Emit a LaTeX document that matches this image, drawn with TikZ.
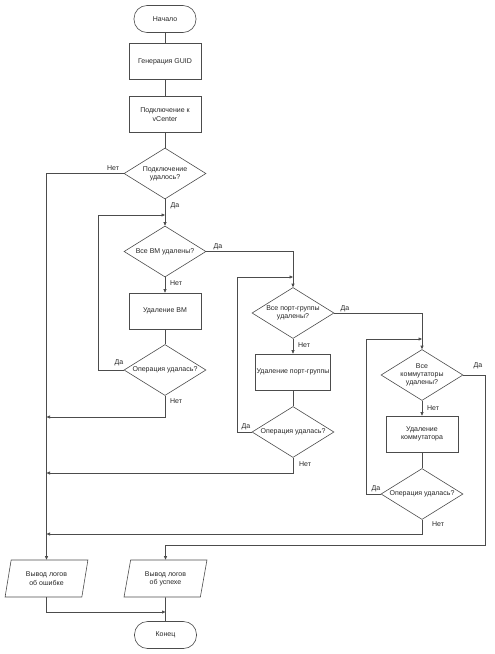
\documentclass[tikz,border=0pt]{standalone}
\usepackage{fontspec}
\setmainfont{Liberation Sans}
\usetikzlibrary{shapes.geometric,arrows.meta}
\begin{document}
\begin{tikzpicture}[x=1pt,y=-1pt,
  every node/.style={font=\fontsize{7}{8.3}\selectfont, text=black!85},
  conn/.style={draw=black!70, line width=0.6pt},
  arr/.style={conn, -{Triangle[length=3.5pt,width=3pt]}},
  term/.style={draw=black!70, line width=0.6pt, rounded corners=13pt, minimum width=62pt, minimum height=27pt, inner sep=0pt},
  proc/.style={draw=black!70, line width=0.6pt, minimum width=72pt, minimum height=36pt, inner sep=1pt, align=center},
  dec/.style={draw=black!70, line width=0.6pt, diamond, aspect=1.6, minimum width=82pt, minimum height=51pt, inner sep=0pt, align=center},
  io/.style={draw=black!70, line width=0.6pt, trapezium, trapezium left angle=75, trapezium right angle=105, trapezium stretches=true, minimum width=83pt, minimum height=37pt, inner sep=0pt, align=center},
  lbl/.style={inner sep=0pt},
]
\useasboundingbox (0,0) rectangle (495,654);
% nodes
\node[term] (start) at (165,19) {Начало};
\node[proc] (guid) at (165,61.5) {Генерация GUID};
\node[proc] (vc) at (165,114.5) {Подключение к\\vCenter};
\node[dec] (d1) at (165,173.5) {Подключение\\удалось?};
\node[dec] (d2) at (165,251.5) {Все ВМ удалены?};
\node[proc] (vm) at (165,311) {Удаление ВМ};
\node[dec] (op1) at (165,370) {Операция удалась?};
\node[dec] (d3) at (293,313) {Все порт-группы\\удалены?};
\node[proc] (pg) at (293,372) {Удаление порт-группы};
\node[dec] (op2) at (293,432) {Операция удалась?};
\node[dec] (d4) at (422,375) {Все\\коммутаторы\\удалены?};
\node[proc] (sw) at (422,434) {Удаление\\коммутатора};
\node[dec] (op3) at (422,494) {Операция удалась?};
\node[io] (errlog) at (46.5,578.5) {Вывод логов\\об ошибке};
\node[io] (oklog) at (165.5,578.5) {Вывод логов\\об успехе};
\node[term] (end) at (165.5,635) {Конец};
% junction coordinates
\coordinate (lp1) at (98,215);
\coordinate (j1) at (165,215);
\coordinate (e1) at (46.5,417);
\coordinate (lp2) at (237,277);
\coordinate (j2) at (293,277);
\coordinate (e2) at (46.5,473);
\coordinate (lp3) at (366,339);
\coordinate (j3) at (422,339);
\coordinate (e3) at (46.5,534);
\coordinate (r4) at (485,545);
\coordinate (j5) at (165.5,612);
% connectors
\draw[conn] (start) -- (guid);
\draw[conn] (guid) -- (vc);
\draw[conn] (vc) -- (d1);
\draw[arr] (d1.south) -- (d2.north);
\draw[arr] (d1.west) -| (errlog.north);
\draw[arr] (op1.west) -| (lp1) -- (j1);
\draw[arr] (d2.south) -- (vm.north);
\draw[conn] (vm) -- (op1);
\draw[arr] (op1.south) |- (e1);
\draw[arr] (d2.east) -| (d3.north);
\draw[arr] (op2.west) -| (lp2) -- (j2);
\draw[arr] (d3.south) -- (pg.north);
\draw[conn] (pg) -- (op2);
\draw[arr] (op2.south) |- (e2);
\draw[arr] (d3.east) -| (d4.north);
\draw[arr] (op3.west) -| (lp3) -- (j3);
\draw[arr] (d4.south) -- (sw.north);
\draw[conn] (sw) -- (op3);
\draw[arr] (op3.south) |- (e3);
\draw[arr] (d4.east) -| (r4) -| (oklog.north);
\draw[arr] (errlog.south) |- (j5);
\draw[conn] (oklog.south) -- (end);
% labels
\node[lbl] (l1) at (113,168) {Нет};
\node[lbl] (l2) at (175,206) {Да};
\node[lbl] (l3) at (218,247) {Да};
\node[lbl] (l4) at (176,283) {Нет};
\node[lbl] (l5) at (119,363) {Да};
\node[lbl] (l6) at (176,401) {Нет};
\node[lbl] (l7) at (345,309) {Да};
\node[lbl] (l8) at (304,345) {Нет};
\node[lbl] (l9) at (246,427) {Да};
\node[lbl] (l10) at (305,464) {Нет};
\node[lbl] (l11) at (478,366) {Да};
\node[lbl] (l12) at (433,408) {Нет};
\node[lbl] (l13) at (376,489) {Да};
\node[lbl] (l14) at (438,524) {Нет};
\end{tikzpicture}
\end{document}
